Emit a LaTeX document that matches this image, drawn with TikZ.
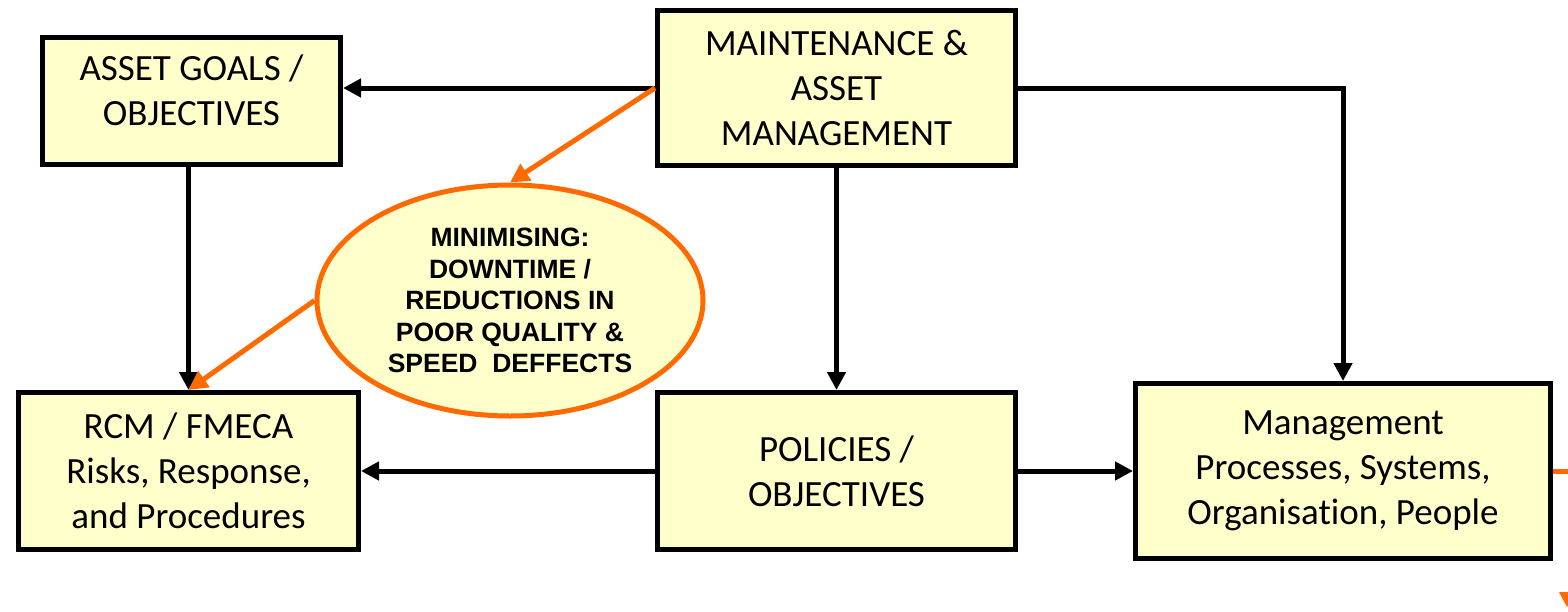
\documentclass[tikz,border=0pt]{standalone}
\usepackage{fontspec}
\setmainfont{Carlito}[RawFeature={-liga;-clig}]
\newfontfamily\arialbold{Liberation Sans}[BoldFont={Liberation Sans Bold}]
\usetikzlibrary{arrows.meta,shapes.geometric}
\definecolor{boxfill}{HTML}{FFFFCC}
\definecolor{accent}{HTML}{FF6A00}
\begin{document}
\begin{tikzpicture}[x=1pt,y=-1pt,
  block/.style={draw=black,line width=5pt,fill=boxfill,align=center,
    inner sep=0pt,font=\fontsize{37}{45}\selectfont},
  goal/.style={ellipse,draw=accent,line width=5pt,fill=boxfill,align=center,
    inner sep=0pt,font=\arialbold\bfseries\fontsize{26.5}{31.5}\selectfont},
  arr/.style={line width=5pt,-{Triangle[length=18pt,width=18pt]}},
  oarr/.style={line width=5pt,draw=accent,-{Triangle[length=19pt,width=19pt]}},
]
\useasboundingbox (0,0) rectangle (1568,611);

\node[block,minimum width=298pt,minimum height=127pt,text depth=22pt]
  (goals) at (191.5,101) {ASSET GOALS /\\OBJECTIVES};
\node[block,minimum width=358pt,minimum height=155pt]
  (maint) at (836.5,88) {MAINTENANCE \&\\ASSET\\MANAGEMENT};
\node[goal,minimum width=386pt,minimum height=231pt]
  (ell) at (510,300.5) {MINIMISING:\\DOWNTIME /\\REDUCTIONS IN\\POOR QUALITY \&\\SPEED\ \ DEFFECTS};
\node[block,minimum width=340pt,minimum height=157pt]
  (rcm) at (188.5,471) {RCM / FMECA\\Risks, Response,\\and Procedures};
\node[block,minimum width=358pt,minimum height=157pt]
  (pol) at (836.5,471) {POLICIES /\\OBJECTIVES};
\node[block,minimum width=415pt,minimum height=175pt]
  (mgmt) at (1343,471) {Management\\Processes, Systems,\\Organisation, People};

\coordinate (offright) at (1580,471);

% black connectors
\draw[arr] (maint.west) -- (maint.west -| goals.east);
\draw[arr] (goals.south -| rcm.north) -- (rcm.north);
\draw[arr] (maint.south) -- (pol.north);
\draw[arr] (maint.east) -| (mgmt.north);
\draw[arr] (pol.west) -- (rcm.east);
\draw[arr] (pol.east) -- (mgmt.west);

% orange connectors
\draw[oarr] (maint.west) -- (ell.north);
\draw[oarr] (ell.west) -- (rcm.north);
\draw[line width=5pt,accent] (mgmt.east) -- (offright);

% orange arrow tip at the lower right edge
\fill[accent] (1559,592) -- (1575,592) -- (1567,607) -- cycle;
\end{tikzpicture}
\end{document}
